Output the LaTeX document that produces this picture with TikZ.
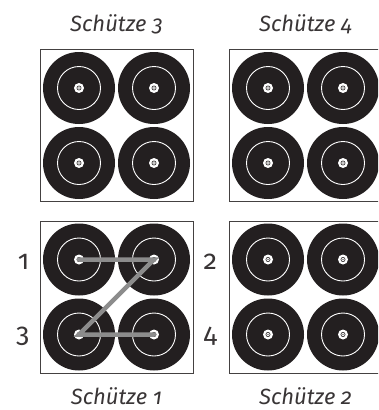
\documentclass[tikz,border=0pt]{standalone}
\usepackage{fontspec}
\setmainfont{Fira Sans}[Numbers=OldStyle]
\usetikzlibrary{positioning,calc}

\definecolor{ink}{HTML}{231F20}
\definecolor{shotgray}{HTML}{8C8C8C}

\begin{document}
\begin{tikzpicture}[
  x=1pt, y=-1pt,
  every node/.style={font=\fontsize{21}{25}\selectfont, text=ink!90},
  sheet/.style={rectangle, draw=ink!85, line width=0.8pt, fill=white,
    minimum width=153pt, minimum height=152pt, inner sep=0pt},
  target/.style={circle, fill=ink, minimum size=72pt, inner sep=0pt,
    path picture={
      \draw[white, line width=0.9pt] (path picture bounding box.center) circle[radius=21.5pt];
      \fill[white] (path picture bounding box.center) circle[radius=5pt];
      \draw[ink, line width=0.6pt] (path picture bounding box.center) circle[radius=2.1pt];
      \fill[ink] (path picture bounding box.center) circle[radius=0.7pt];
    }},
  title/.style={font=\itshape\fontsize{22}{26}\selectfont, anchor=base},
  num/.style={font=\fontsize{27}{30}\selectfont, yshift=-2pt},
  shot/.style={draw=shotgray, line width=4.5pt, line cap=round},
]
\useasboundingbox (0,0) rectangle (378,410);
\clip (0,0) rectangle (378,410);

% Sheets
\node[sheet] (s3) at (116.5,125.5) {};
\node[sheet] (s4) at (305.5,125.5) {};
\node[sheet] (s1) at (116.5,297) {};
\node[sheet] (s2) at (305.5,297) {};

% Targets (1 2 / 3 4 on each sheet)
\foreach \s in {s1,s2,s3,s4}
  \foreach \i/\dx/\dy in {1/-37.5/-37.5, 2/37.5/-37.5, 3/-37.5/37.5, 4/37.5/37.5}
    \node[target] (\s-\i) at ($(\s)+(\dx,\dy)$) {};

% Titles
\node[title] at ([yshift=18pt]s3.north) {Schütze 3};
\node[title] at ([yshift=18pt]s4.north) {Schütze 4};
\node[title] at ([yshift=-31pt]s1.south) {Schütze 1};
\node[title] at ([yshift=-31pt]s2.south) {Schütze 2};

% Shot order
\draw[shot] (s1-1.center) -- (s1-2.center) -- (s1-3.center) -- (s1-4.center);

\node[num, left=10pt of s1-1] (n1) {1};
\node[num, right=10pt of s1-2] (n2) {2};
\node[num, left=10pt of s1-3] (n3) {3};
\node[num, right=10pt of s1-4] (n4) {4};

\end{tikzpicture}
\end{document}
